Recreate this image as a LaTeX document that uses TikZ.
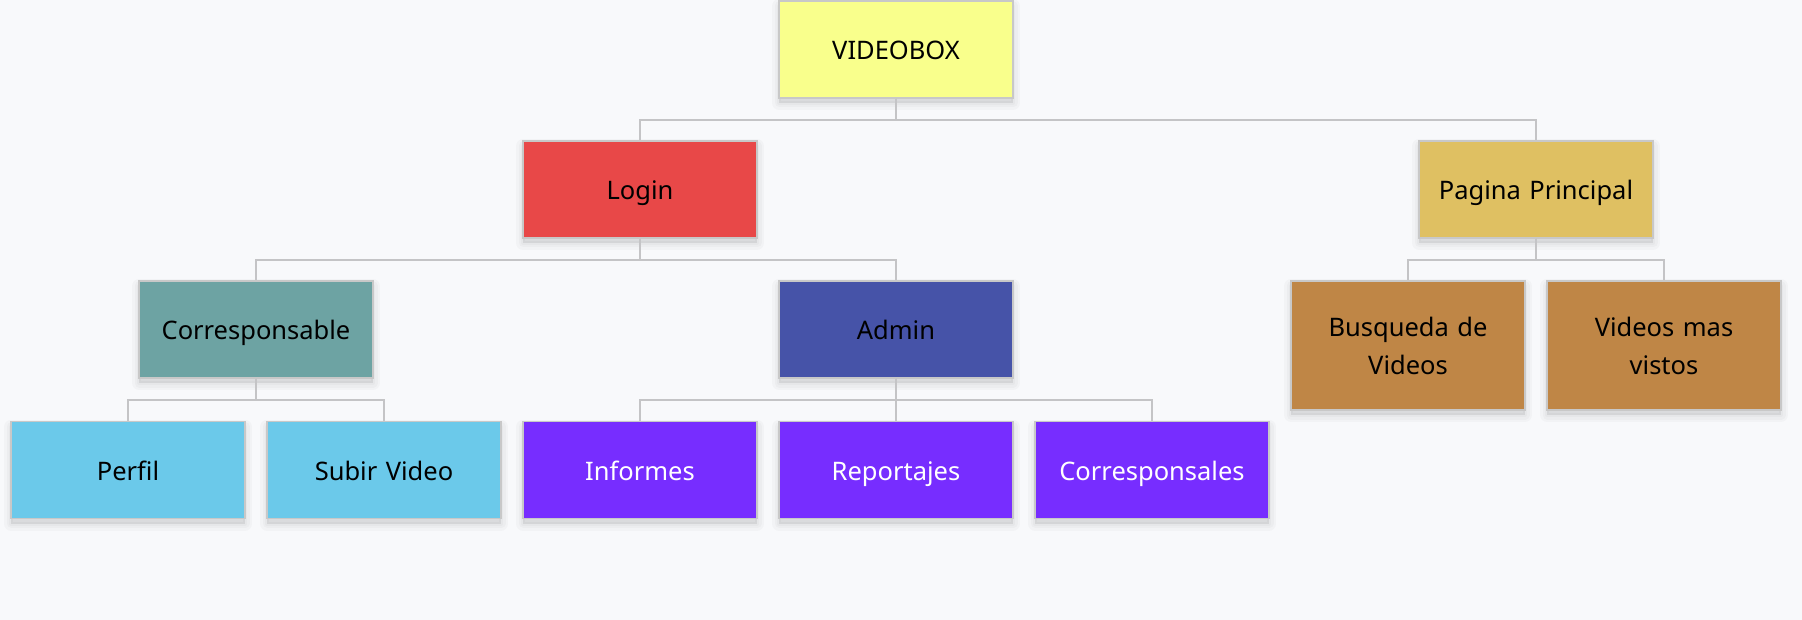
\documentclass[tikz,border=0pt]{standalone}
\usepackage{fontspec}
\setmainfont{Noto Sans}
\definecolor{bg}{HTML}{F8F9FB}
\definecolor{bordergray}{HTML}{C8C8C8}
\definecolor{linegray}{HTML}{C4C4C6}
\definecolor{cYellow}{HTML}{F9FF8C}
\definecolor{cRed}{HTML}{E84848}
\definecolor{cGold}{HTML}{DFC062}
\definecolor{cTeal}{HTML}{6DA3A3}
\definecolor{cBlue}{HTML}{4653A8}
\definecolor{cBrown}{HTML}{BF8646}
\definecolor{cSky}{HTML}{6BC9EA}
\definecolor{cPurple}{HTML}{772DFF}
\newcommand{\mystr}{\rule[-8pt]{0pt}{37pt}}
\tikzset{
  softshade/.style={preaction={draw=black, fill=black, line width=#1, opacity=0.022,
     line join=round, transform canvas={yshift=-5pt}}},
  box/.style={draw=bordergray, line width=1.5pt, minimum width=234pt, minimum height=97pt,
    inner sep=0pt, align=center, text width=220pt,
    font=\fontsize{25.5}{35}\selectfont, execute at begin node=\mystr,
    softshade=14pt, softshade=9pt, softshade=4pt},
  conn/.style={draw=linegray, line width=1.6pt}
}
\begin{document}
\begin{tikzpicture}[x=1pt,y=-1pt]
\fill[bg] (0,0) rectangle (1802,620);
\useasboundingbox (0,0) rectangle (1802,620);
\node[box, fill=cYellow] (root) at (896,49.5) {VIDEOBOX};
\node[box, fill=cRed] (login) at (640,189.5) {Login};
\node[box, fill=cGold] (pag) at (1536,189.5) {Pagina Principal};
\node[box, fill=cTeal] (corr) at (256,329.5) {Corresponsable};
\node[box, fill=cBlue] (admin) at (896,329.5) {Admin};
\node[box, fill=cBrown, minimum height=129pt] (busq) at (1408,345.5) {Busqueda de\\Videos\mystr};
\node[box, fill=cBrown, minimum height=129pt] (vids) at (1664,345.5) {Videos mas\\vistos\mystr};
\node[box, fill=cSky] (perfil) at (128,470) {Perfil};
\node[box, fill=cSky] (subir) at (384,470) {Subir Video};
\node[box, fill=cPurple, text=white] (inf) at (640,470) {Informes};
\node[box, fill=cPurple, text=white] (rep) at (896,470) {Reportajes};
\node[box, fill=cPurple, text=white] (corrs) at (1152,470) {Corresponsales};
\draw[conn] (root.south) -- ++(0,21) -| (login.north);
\draw[conn] (root.south) -- ++(0,21) -| (pag.north);
\draw[conn] (login.south) -- ++(0,21) -| (corr.north);
\draw[conn] (login.south) -- ++(0,21) -| (admin.north);
\draw[conn] (pag.south) -- ++(0,21) -| (busq.north);
\draw[conn] (pag.south) -- ++(0,21) -| (vids.north);
\draw[conn] (corr.south) -- ++(0,21) -| (perfil.north);
\draw[conn] (corr.south) -- ++(0,21) -| (subir.north);
\draw[conn] (admin.south) -- ++(0,21) -| (inf.north);
\draw[conn] (admin.south) -- ++(0,21) -| (rep.north);
\draw[conn] (admin.south) -- ++(0,21) -| (corrs.north);
\end{tikzpicture}
\end{document}
